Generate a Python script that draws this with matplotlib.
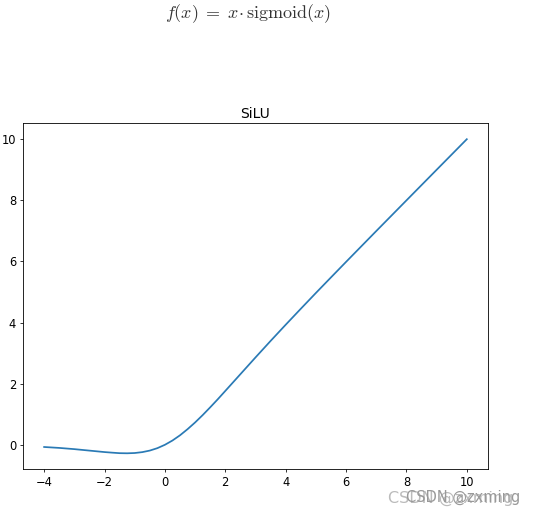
import matplotlib
matplotlib.use("Agg")
import matplotlib.pyplot as plt

# Values
x_vals = [-4, -3.5, -3, -2.5, -2, -1.75, -1.5, -1.25, -1, -0.75, -0.5, -0.25, 0,
          0.25, 0.5, 0.75, 1, 1.25, 1.5, 1.75, 2, 2.5, 3, 3.5, 4, 4.5, 5,
          5.5, 6, 7, 8, 9, 10]
y_vals = [-0.072, -0.102, -0.142, -0.190, -0.238, -0.257, -0.274, -0.278, -0.269,
          -0.240, -0.189, -0.110, 0.0, 0.140, 0.311, 0.511, 0.731, 0.971, 1.226,
          1.489, 1.762, 2.310, 2.858, 3.398, 3.928, 4.450, 4.967, 5.477, 5.985,
          6.994, 7.997, 8.999, 10.0]
title = "SiLU"
formula = r"$f(x)\;=\;x\!\cdot\mathrm{sigmoid}(x)$"
x_ticks = [-4, -2, 0, 2, 4, 6, 8, 10]
y_ticks = [0, 2, 4, 6, 8, 10]

plt.rcParams['mathtext.fontset'] = 'cm'
fs = 8.3
fig = plt.figure(figsize=(5.4, 5.18), dpi=100)
ax = fig.add_axes([0.0426, 0.0946, 0.861, 0.667])
ax.plot(x_vals, y_vals, color='#2a7ab5', linewidth=1.25)
ax.set_xticks(x_ticks)
ax.set_yticks(y_ticks)
ax.set_title(title, fontsize=10, pad=4)
ax.tick_params(labelsize=fs, length=2.5, width=0.56, pad=2.5)
for s in ax.spines.values():
    s.set_linewidth(0.6)

fig.text(0.460, 0.973, formula, fontsize=13, ha='center', va='center', color='#333333')
fig.text(0.718, 0.037, "CSDN @zxming", fontsize=11.5, color='#bbbbbb', ha='left', va='center')
fig.text(0.752, 0.039, "CSDN @zxming", fontsize=10.5, color='#999999', ha='left', va='center')

fig.savefig("out.png", dpi=100)
